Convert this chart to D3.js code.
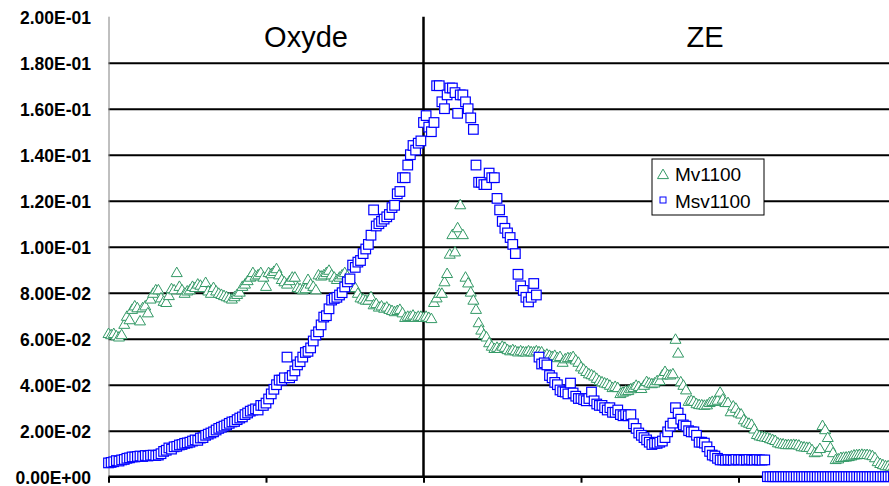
<!DOCTYPE html>
<html>
<head>
<meta charset="utf-8">
<script src="https://cdn.jsdelivr.net/npm/d3@7/dist/d3.min.js"></script>
<style>
  html, body { margin: 0; padding: 0; background: #ffffff; }
  svg { display: block; }
</style>
</head>
<body>
<svg id="chart" width="889" height="486"></svg>
<script>
// ---------------- DATA ----------------
const seriesNames = ["Mv1100", "Msv1100"];
const regionLabels = ["Oxyde", "ZE"];
const yTickValues = [0, 0.02, 0.04, 0.06, 0.08, 0.10, 0.12, 0.14, 0.16, 0.18, 0.20];
const yTickLabels = ["0.00E+00", "2.00E-02", "4.00E-02", "6.00E-02", "8.00E-02", "1.00E-01",
                     "1.20E-01", "1.40E-01", "1.60E-01", "1.80E-01", "2.00E-01"];
const xTickCategories = [0, 60, 120, 180, 240, 300];
const dividerCategory = 120;

// Mv1100 (green triangles), one value per category 0..299
const mv1100 = [
  0.0625, 0.062, 0.0625, 0.0615, 0.061, 0.062, 0.0665, 0.070, 0.0685, 0.073,
  0.0745, 0.0737, 0.068, 0.0737, 0.0745, 0.0715, 0.0775, 0.080, 0.0815, 0.0815,
  0.078, 0.0765, 0.076, 0.079, 0.082, 0.0815, 0.089, 0.083, 0.0815, 0.080,
  0.081, 0.0815, 0.083, 0.0825, 0.084, 0.0835, 0.0825, 0.0847, 0.081, 0.080,
  0.0825, 0.081, 0.080, 0.0795, 0.079, 0.0785, 0.078, 0.0775, 0.0785, 0.0795,
  0.0805, 0.083, 0.084, 0.0855, 0.087, 0.089, 0.0875, 0.088, 0.089, 0.087,
  0.083, 0.089, 0.0885, 0.0895, 0.0907, 0.088, 0.086, 0.085, 0.084, 0.0855,
  0.087, 0.087, 0.0825, 0.082, 0.0815, 0.082, 0.086, 0.084, 0.083, 0.0815,
  0.088, 0.0875, 0.088, 0.089, 0.090, 0.088, 0.087, 0.086, 0.087, 0.088,
  0.089, 0.0875, 0.085, 0.083, 0.0825, 0.080, 0.078, 0.0775, 0.077, 0.077,
  0.0785, 0.075, 0.0755, 0.074, 0.0745, 0.0735, 0.074, 0.073, 0.0725, 0.072,
  0.0725, 0.073, 0.0715, 0.0695, 0.070, 0.070, 0.0705, 0.0695, 0.070, 0.070,
  0.0695, 0.070, 0.0695, 0.069, 0.076, 0.078, 0.080, 0.080, 0.085, 0.0886,
  0.097, 0.1055, 0.098, 0.1085, 0.1185, 0.1055, 0.087, 0.0845, 0.0805, 0.077,
  0.073, 0.0672, 0.064, 0.062, 0.061, 0.0585, 0.057, 0.056, 0.0565, 0.056,
  0.057, 0.0565, 0.0555, 0.055, 0.0555, 0.055, 0.0545, 0.055, 0.0546, 0.0545,
  0.055, 0.0546, 0.0545, 0.055, 0.0546, 0.0545, 0.053, 0.0535, 0.053, 0.0525,
  0.053, 0.052, 0.0525, 0.050, 0.0515, 0.052, 0.052, 0.0525, 0.051, 0.050,
  0.048, 0.047, 0.046, 0.045, 0.0446, 0.044, 0.043, 0.042, 0.0415, 0.041,
  0.0407, 0.040, 0.039, 0.0395, 0.039, 0.0364, 0.037, 0.0375, 0.0377, 0.0385,
  0.039, 0.040, 0.0395, 0.0386, 0.040, 0.0416, 0.041, 0.0407, 0.041, 0.042,
  0.042, 0.0445, 0.046, 0.0446, 0.0445, 0.045, 0.060, 0.054, 0.0415, 0.040,
  0.038, 0.033, 0.0335, 0.033, 0.032, 0.0316, 0.0315, 0.0313, 0.0315, 0.0325,
  0.033, 0.033, 0.0335, 0.037, 0.034, 0.0325, 0.0325, 0.0285, 0.031, 0.030,
  0.028, 0.0275, 0.025, 0.024, 0.0235, 0.023, 0.021, 0.0186, 0.018, 0.0177,
  0.0175, 0.0173, 0.0168, 0.0164, 0.016, 0.015, 0.0146, 0.0145, 0.0142, 0.0142,
  0.0142, 0.0143, 0.0142, 0.014, 0.0133, 0.0132, 0.013, 0.013, 0.012, 0.0107,
  0.011, 0.0125, 0.0225, 0.0207, 0.0173, 0.013, 0.0107, 0.0077, 0.008, 0.0086,
  0.0087, 0.0088, 0.009, 0.0093, 0.0097, 0.0098, 0.0099, 0.010, 0.0099, 0.0099,
  0.0097, 0.0094, 0.0085, 0.0068, 0.006, 0.0055, 0.005, 0.005, 0.0048, 0.0045
];

// Msv1100 (blue squares), one value per category 0..299
const msv1100 = [
  0.006, 0.0062, 0.0065, 0.007, 0.0068, 0.0073, 0.0075, 0.008, 0.0082, 0.0086,
  0.0086, 0.0088, 0.009, 0.0088, 0.0092, 0.009, 0.0093, 0.0094, 0.0092, 0.0094,
  0.010, 0.011, 0.0115, 0.0125, 0.012, 0.013, 0.0132, 0.0138, 0.014, 0.0145,
  0.0147, 0.015, 0.0155, 0.016, 0.0158, 0.0168, 0.017, 0.018, 0.0185, 0.019,
  0.0195, 0.0203, 0.021, 0.0215, 0.022, 0.0225, 0.0232, 0.0238, 0.024, 0.0248,
  0.0255, 0.026, 0.027, 0.0277, 0.0285, 0.029, 0.0295, 0.029, 0.031, 0.031,
  0.032, 0.0338, 0.036, 0.038, 0.040, 0.042, 0.042, 0.043, 0.052, 0.043,
  0.044, 0.046, 0.0486, 0.050, 0.052, 0.054, 0.0545, 0.056, 0.059, 0.0616,
  0.063, 0.066, 0.0694, 0.070, 0.073, 0.0768, 0.0775, 0.078, 0.079, 0.080,
  0.0825, 0.0847, 0.086, 0.092, 0.091, 0.0933, 0.094, 0.097, 0.099, 0.101,
  0.105, 0.116, 0.109, 0.110, 0.111, 0.112, 0.113, 0.114, 0.117, 0.118,
  0.123, 0.124, 0.130, 0.130, 0.1355, 0.140, 0.144, 0.142, 0.145, 0.146,
  0.154, 0.157, 0.152, 0.150, 0.154, 0.170, 0.170, 0.163, 0.160, 0.166,
  0.169, 0.169, 0.167, 0.158, 0.166, 0.166, 0.163, 0.160, 0.156, 0.151,
  0.1355, 0.128, 0.128, 0.127, 0.127, 0.132, 0.130, 0.130, 0.121, 0.116,
  0.111, 0.108, 0.106, 0.104, 0.101, 0.097, 0.088, 0.083, 0.081, 0.078,
  0.076, 0.078, 0.084, 0.079, 0.052, 0.049, 0.0495, 0.0486, 0.044, 0.043,
  0.041, 0.040, 0.0377, 0.037, 0.0368, 0.036, 0.0407, 0.0364, 0.035, 0.034,
  0.034, 0.0335, 0.033, 0.034, 0.0368, 0.033, 0.0316, 0.031, 0.031, 0.030,
  0.029, 0.030, 0.028, 0.028, 0.029, 0.027, 0.0265, 0.027, 0.0265, 0.027,
  0.023, 0.021, 0.019, 0.018, 0.017, 0.016, 0.015, 0.014, 0.0145, 0.0145,
  0.015, 0.0155, 0.017, 0.0195, 0.022, 0.0233, 0.030, 0.0277, 0.025, 0.0225,
  0.022, 0.020, 0.0195, 0.0195, 0.018, 0.015, 0.015, 0.0146, 0.013, 0.011,
  0.0094, 0.009, 0.008, 0.0073, 0.0073, 0.0072, 0.0074, 0.0073, 0.0072, 0.0075,
  0.0073, 0.0074, 0.0072, 0.0073, 0.0075, 0.0073, 0.0072, 0.0074, 0.0073, 0.0072,
  0.0073, 0, 0, 0, 0, 0, 0, 0, 0, 0,
  0, 0, 0, 0, 0, 0, 0, 0, 0, 0,
  0, 0, 0, 0, 0, 0, 0, 0, 0, 0,
  0, 0, 0, 0, 0, 0, 0, 0, 0, 0,
  0, 0, 0, 0, 0, 0, 0, 0, 0, 0
];

// ---------------- CHART ----------------
const svg = d3.select("#chart");
const W = 889, H = 486;
const plot = { left: 108.5, top: 16.7, bottom: 476.7, right: 896 };

const x = d3.scaleLinear().domain([0, 300]).range([plot.left, plot.right]);
const y = d3.scaleLinear().domain([0, 0.2]).range([plot.bottom, plot.top]);

const green = "#339966";
const blue = "#0000ff";
const font = "'Liberation Sans', Arial, sans-serif";

// horizontal gridlines
const gridAxis = d3.axisLeft(y)
  .tickValues(yTickValues.filter(v => v > 0 && v < 0.2))
  .tickSize(-(W - plot.left))
  .tickFormat("");
const gGrid = svg.append("g")
  .attr("transform", `translate(${plot.left},0)`)
  .call(gridAxis);
gGrid.select(".domain").remove();
gGrid.selectAll(".tick line")
  .attr("stroke", "#000")
  .attr("stroke-width", 2);

// y axis labels
const yAxis = d3.axisLeft(y)
  .tickValues(yTickValues)
  .tickSize(0)
  .tickPadding(0)
  .tickFormat((d, i) => yTickLabels[i]);
const gY = svg.append("g")
  .attr("transform", `translate(91,0)`)
  .call(yAxis);
gY.select(".domain").remove();
gY.selectAll(".tick text")
  .attr("font-family", font)
  .attr("font-weight", "bold")
  .attr("font-size", 17.5)
  .attr("fill", "#000")
  .attr("dy", "0.36em");

// y axis line (grey)
svg.append("line")
  .attr("x1", plot.left + 0.5).attr("x2", plot.left + 0.5)
  .attr("y1", plot.top).attr("y2", plot.bottom)
  .attr("stroke", "#808080").attr("stroke-width", 1);

// x axis (no labels, tick marks downward)
const xAxis = d3.axisBottom(x)
  .tickValues(xTickCategories)
  .tickSize(6)
  .tickFormat("");
const gX = svg.append("g")
  .attr("transform", `translate(0,${plot.bottom})`)
  .call(xAxis);
gX.select(".domain")
  .attr("d", `M${plot.left},0H${W}`)
  .attr("stroke", "#000").attr("stroke-width", 2.5);
gX.selectAll(".tick line").attr("stroke", "#000").attr("stroke-width", 2);

// vertical divider between regions
svg.append("line")
  .attr("x1", x(dividerCategory)).attr("x2", x(dividerCategory))
  .attr("y1", plot.top).attr("y2", plot.bottom)
  .attr("stroke", "#000").attr("stroke-width", 2.5);

// region titles
svg.append("text")
  .attr("x", 306).attr("y", 47)
  .attr("text-anchor", "middle")
  .attr("font-family", font).attr("font-size", 29)
  .attr("fill", "#000")
  .text(regionLabels[0]);
svg.append("text")
  .attr("x", 705).attr("y", 47)
  .attr("text-anchor", "middle")
  .attr("font-family", font).attr("font-size", 29)
  .attr("fill", "#000")
  .text(regionLabels[1]);

// markers
const triPath = "M0,-4.9L5.5,4.6L-5.5,4.6Z";

svg.append("g")
  .selectAll("path")
  .data(mv1100)
  .join("path")
  .attr("d", triPath)
  .attr("transform", (d, i) => `translate(${x(i)},${y(d)})`)
  .attr("fill", "#fff")
  .attr("stroke", green)
  .attr("stroke-width", 1);

svg.append("g")
  .selectAll("rect")
  .data(msv1100)
  .join("rect")
  .attr("x", (d, i) => x(i) - 4.8)
  .attr("y", d => y(d) - 4.8)
  .attr("width", 9.6)
  .attr("height", 9.6)
  .attr("fill", "#fff")
  .attr("stroke", blue)
  .attr("stroke-width", 1.2);

// legend
const lg = svg.append("g").attr("transform", "translate(652,159)");
lg.append("rect")
  .attr("x", 0).attr("y", 0)
  .attr("width", 112).attr("height", 56)
  .attr("fill", "#fff").attr("stroke", "#000").attr("stroke-width", 1);
lg.append("path")
  .attr("d", triPath)
  .attr("transform", "translate(11,15)")
  .attr("fill", "#fff").attr("stroke", green).attr("stroke-width", 1);
lg.append("rect")
  .attr("x", 8).attr("y", 38).attr("width", 6).attr("height", 6)
  .attr("fill", "#fff").attr("stroke", blue).attr("stroke-width", 1);
lg.append("text")
  .attr("x", 23).attr("y", 22)
  .attr("font-family", font).attr("font-size", 19)
  .attr("fill", "#000")
  .text(seriesNames[0]);
lg.append("text")
  .attr("x", 23).attr("y", 49)
  .attr("font-family", font).attr("font-size", 19)
  .attr("fill", "#000")
  .text(seriesNames[1]);
</script>
</body>
</html>
